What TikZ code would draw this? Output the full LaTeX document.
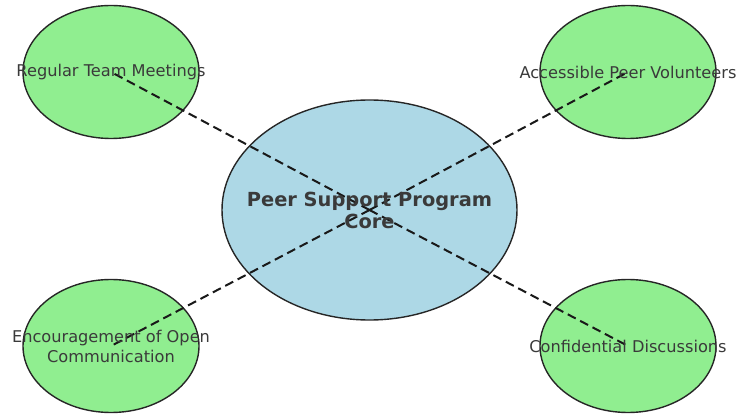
\documentclass[tikz,border=0pt]{standalone}
\usepackage{fontspec}
\setmainfont{DejaVu Sans}
\usetikzlibrary{shapes.geometric}

\definecolor{corefill}{HTML}{ADD8E6}
\definecolor{itemfill}{HTML}{90EE90}
\definecolor{textgray}{HTML}{3A3A3A}

\tikzset{
  coreshape/.style={ellipse, draw=black!85, line width=1.4pt, fill=corefill,
    minimum width=295pt, minimum height=220pt, inner sep=0pt},
  itemshape/.style={ellipse, draw=black!85, line width=1.4pt, fill=itemfill,
    minimum width=176pt, minimum height=133pt, inner sep=0pt},
  link/.style={dashed, dash pattern=on 9pt off 5pt, line width=2pt, black!90},
  itemtext/.style={text=textgray, font=\fontsize{16.2}{20}\selectfont, align=center},
  coretext/.style={text=textgray, font=\bfseries\fontsize{19.4}{22}\selectfont, align=center}
}

\begin{document}
\begin{tikzpicture}[x=1pt,y=-1pt]

 \useasboundingbox (0,0) rectangle (737,414);

 % Ellipses
 \node[coreshape] (core) at (369.5,210) {};
 \node[itemshape] (meet) at (111,72) {};
 \node[itemshape] (volun) at (628,72) {};
 \node[itemshape] (open) at (111,346) {};
 \node[itemshape] (conf) at (628,346) {};

 % Dashed links from the core
 \draw[link] (core.center) -- (meet.center);
 \draw[link] (core.center) -- (volun.center);
 \draw[link] (core.center) -- (open.center);
 \draw[link] (core.center) -- (conf.center);

 % Labels on top
 \node[coretext] (coreLabel) at (core.center) {Peer Support Program\\Core};
 \node[itemtext] (meetLabel) at (meet.center) {Regular Team Meetings};
 \node[itemtext] (volunLabel) at (volun.center) {Accessible Peer Volunteers};
 \node[itemtext] (openLabel) at (open.center) {Encouragement of Open\\Communication};
 \node[itemtext] (confLabel) at (conf.center) {Confidential Discussions};

\end{tikzpicture}
\end{document}
